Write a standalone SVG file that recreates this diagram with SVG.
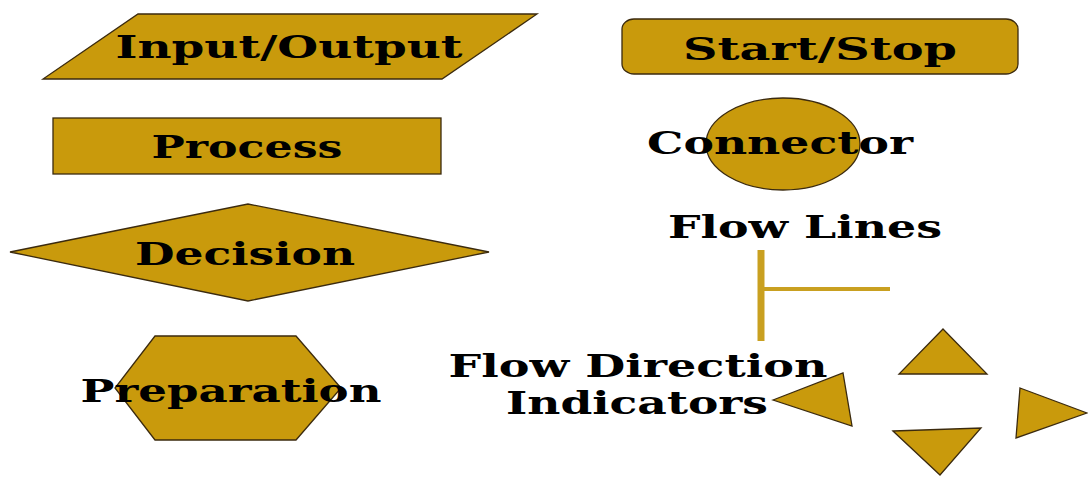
<svg xmlns="http://www.w3.org/2000/svg" width="1088" height="479" viewBox="0 0 1088 479">
<style>
.shape{fill:#C99A0C;stroke:#3B2A0E;stroke-width:1.3}
.lbl{font-family:"DejaVu Serif","Liberation Serif",serif;font-weight:bold;font-size:31px;fill:#000;text-anchor:middle}
.flow{stroke:#C9A020;fill:none}
</style>
<rect width="1088" height="479" fill="#fff"/>
<g id="input-output">
<polygon class="shape" points="138,14 537,14 442,79 43,79"/>
<text class="lbl" x="289" y="58" textLength="347" lengthAdjust="spacingAndGlyphs">Input/Output</text>
</g>
<g id="process">
<rect class="shape" x="53" y="118" width="388" height="56"/>
<text class="lbl" x="247" y="158" textLength="191" lengthAdjust="spacingAndGlyphs">Process</text>
</g>
<g id="decision">
<polygon class="shape" points="10,252 248,204 489,252 248,301"/>
<text class="lbl" x="245" y="265" textLength="220" lengthAdjust="spacingAndGlyphs">Decision</text>
</g>
<g id="preparation">
<polygon class="shape" points="155,336 296,336 341,388 296,440 155,440 115,388"/>
<text class="lbl" x="231" y="402" textLength="301" lengthAdjust="spacingAndGlyphs">Preparation</text>
</g>
<g id="start-stop">
<rect class="shape" x="622" y="19" width="396" height="55" rx="12" ry="10"/>
<text class="lbl" x="820" y="60" textLength="274" lengthAdjust="spacingAndGlyphs">Start/Stop</text>
</g>
<g id="connector">
<ellipse class="shape" cx="783" cy="144" rx="77" ry="46"/>
<text class="lbl" x="780" y="154" textLength="266" lengthAdjust="spacingAndGlyphs">Connector</text>
</g>
<g id="flow-lines">
<text class="lbl" x="805" y="238" textLength="274" lengthAdjust="spacingAndGlyphs">Flow Lines</text>
<g id="connectors">
<line class="flow" x1="761" y1="250" x2="761" y2="341" stroke-width="7"/>
<line class="flow" x1="761" y1="289" x2="890" y2="289" stroke-width="4"/>
</g>
</g>
<g id="flow-direction">
<text class="lbl" x="638" y="377" textLength="379" lengthAdjust="spacingAndGlyphs">Flow Direction</text>
<text class="lbl" x="637" y="414" textLength="262" lengthAdjust="spacingAndGlyphs">Indicators</text>
<polygon class="shape" points="943,329 987,374 899,374"/>
<polygon class="shape" points="773,400 843,373 852,426"/>
<polygon class="shape" points="893,431 981,428 940,475"/>
<polygon class="shape" points="1020,388 1087,413 1016,438"/>
</g>
</svg>
